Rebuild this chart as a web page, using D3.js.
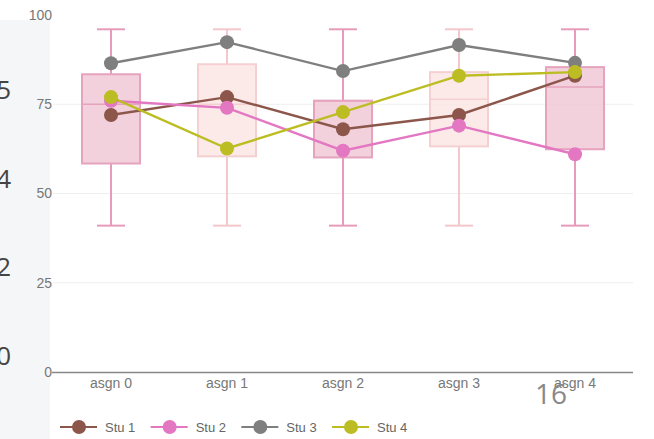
<!DOCTYPE html>
<html><head><meta charset="utf-8">
<script src="https://cdn.jsdelivr.net/npm/d3@7"></script>
<style>body{margin:0;background:#fff;}svg{display:block;}</style>
</head><body>
<svg id="c" width="654" height="439"></svg>
<script>
const categories = ["asgn 0","asgn 1","asgn 2","asgn 3","asgn 4"];
const boxLow    = [41, 41, 41, 41, 41];
const boxQ1     = [58.4, 60.4, 60.1, 63.2, 62.4];
const boxMedian = [75, 75, 76.0, 76.4, 79.8];
const boxQ3     = [83.4, 86.2, 76.0, 84.0, 85.4];
const boxHigh   = [96, 96, 96, 96, 96];
const seriesNames = ["Stu 1","Stu 2","Stu 3","Stu 4"];
const stu1 = [72, 77, 68, 72, 83];
const stu2 = [76, 74, 62, 69, 61];
const stu3 = [86.5, 92.4, 84.3, 91.6, 86.6];
const stu4 = [77, 62.6, 72.8, 83, 84];
const yTicks = [0, 25, 50, 75, 100];
const gridTicks = [25, 50, 75];
const sideDigits = ["5","4","2","0"];
const pageNumber = "16";

const series = [stu1, stu2, stu3, stu4];
const colors = ["#8c564b","#e377c2","#7f7f7f","#bcbd22"];

const svg = d3.select("#c");
// side panel (cropped neighbour)
svg.append("rect").attr("x",0).attr("y",20).attr("width",50).attr("height",419).attr("fill","#f5f6f8");
const sideY = d3.scalePoint().domain(sideDigits).range([90, 356]);
svg.selectAll("text.side").data(sideDigits).enter().append("text")
  .attr("x", 11).attr("y", d => sideY(d) + 9).attr("text-anchor","end")
  .attr("font-family","Open Sans, sans-serif").attr("font-size",26).attr("fill","#444").text(d => d);

const x = d3.scaleBand().domain(categories).range([53, 633]).padding(0);
const y = d3.scaleLinear().domain([0, 100]).range([372, 15]);

// gridlines
svg.append("g").selectAll("line").data(gridTicks).enter().append("line")
  .attr("x1", 53).attr("x2", 633).attr("y1", d => y(d)).attr("y2", d => y(d))
  .attr("stroke","#eeeeee").attr("stroke-width",1);

// y axis labels
const yAxis = d3.axisLeft(y).tickValues(yTicks).tickSize(0).tickPadding(0);
const gy = svg.append("g").attr("transform","translate(52,0)").call(yAxis);
gy.select(".domain").remove();
gy.selectAll("text").attr("font-family","Liberation Sans, Arial, sans-serif").attr("font-size",14).attr("fill","#777");

// x axis
const xAxis = d3.axisBottom(x).tickSize(0).tickPadding(6);
const gx = svg.append("g").attr("transform","translate(0,372)").call(xAxis);
gx.select(".domain").attr("stroke","#888").attr("stroke-width",1.5).attr("d","M52,0.5H633");
gx.selectAll("text").attr("font-family","Liberation Sans, Arial, sans-serif").attr("font-size",14).attr("fill","#777");

// boxes
const boxW = 58, capW = 28;
const dark = {fill:"#f0c9d7", stroke:"#e6a3bd", whisk:"#e79bbb"};
const light = {fill:"#fbe6e4", stroke:"#f4d0d0", whisk:"#f3c7cc"};
categories.forEach((c, i) => {
  const st = i % 2 === 0 ? dark : light;
  const cx = x(c) + x.bandwidth() / 2;
  const g = svg.append("g");
  g.append("line").attr("x1",cx).attr("x2",cx).attr("y1",y(boxHigh[i])).attr("y2",y(boxQ3[i])).attr("stroke",st.whisk).attr("stroke-width",2);
  g.append("line").attr("x1",cx).attr("x2",cx).attr("y1",y(boxQ1[i])).attr("y2",y(boxLow[i])).attr("stroke",st.whisk).attr("stroke-width",2);
  g.append("line").attr("x1",cx-capW/2).attr("x2",cx+capW/2).attr("y1",y(boxHigh[i])).attr("y2",y(boxHigh[i])).attr("stroke",st.whisk).attr("stroke-width",2);
  g.append("line").attr("x1",cx-capW/2).attr("x2",cx+capW/2).attr("y1",y(boxLow[i])).attr("y2",y(boxLow[i])).attr("stroke",st.whisk).attr("stroke-width",2);
  g.append("rect").attr("x",cx-boxW/2).attr("width",boxW).attr("y",y(boxQ3[i])).attr("height",y(boxQ1[i])-y(boxQ3[i]))
    .attr("fill",st.fill).attr("fill-opacity",0.85).attr("stroke",st.stroke).attr("stroke-width",2);
  g.append("line").attr("x1",cx-boxW/2).attr("x2",cx+boxW/2).attr("y1",y(boxMedian[i])).attr("y2",y(boxMedian[i])).attr("stroke",st.stroke).attr("stroke-width",1.5);
});

// lines
const line = d3.line().x((d, i) => x(categories[i]) + x.bandwidth()/2).y(d => y(d));
series.forEach((s, k) => {
  svg.append("path").datum(s).attr("d", line).attr("fill","none").attr("stroke",colors[k]).attr("stroke-width",2.4);
});
series.forEach((s, k) => {
  svg.append("g").selectAll("circle").data(s).enter().append("circle")
    .attr("cx",(d,i) => x(categories[i]) + x.bandwidth()/2).attr("cy", d => y(d)).attr("r",7).attr("fill",colors[k]);
});

// legend
const legX = d3.scalePoint().domain(seriesNames).range([60, 332]);
const lg = svg.append("g");
seriesNames.forEach((n, k) => {
  const lx = legX(n);
  lg.append("line").attr("x1",lx).attr("x2",lx+37).attr("y1",427).attr("y2",427).attr("stroke",colors[k]).attr("stroke-width",2);
  lg.append("circle").attr("cx",lx+19).attr("cy",427).attr("r",7).attr("fill",colors[k]);
  lg.append("text").attr("x",lx+45).attr("y",432).attr("font-family","Liberation Sans, Arial, sans-serif")
    .attr("font-size",13).attr("fill","#666").text(n);
});

// page number overlay
svg.append("text").attr("x",535).attr("y",404).attr("font-family","Open Sans, sans-serif").attr("font-size",28).attr("fill","#888").text(pageNumber);
</script>
</body></html>
